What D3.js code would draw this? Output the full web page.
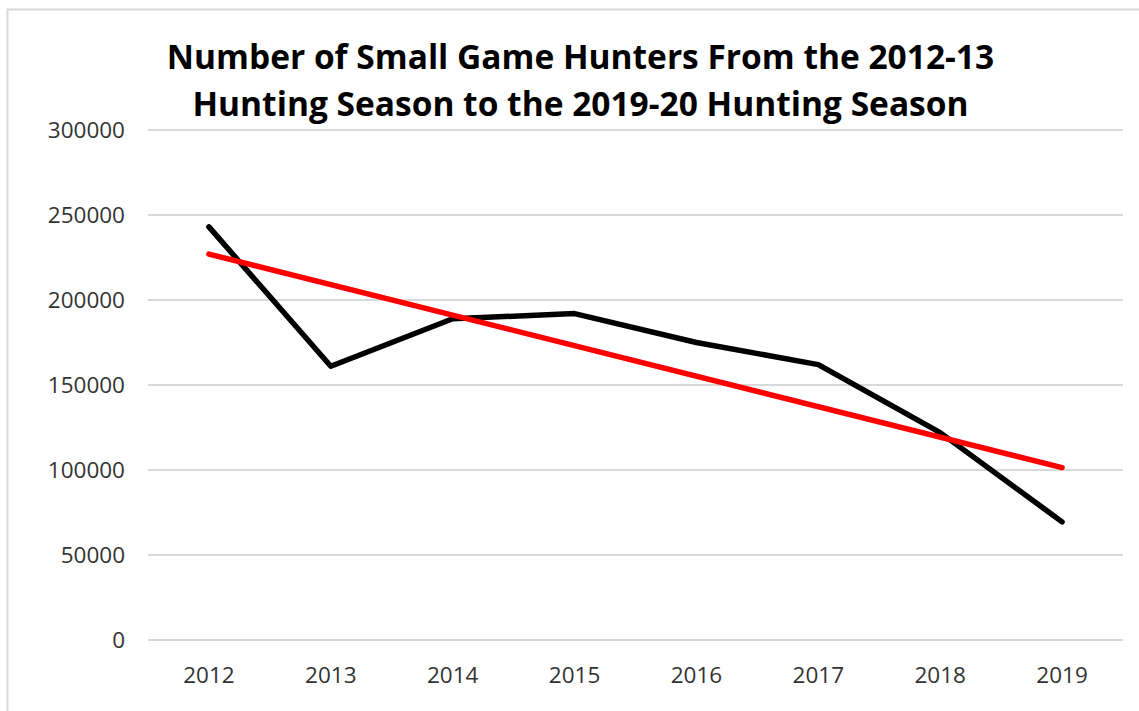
<!DOCTYPE html>
<html>
<head>
<meta charset="utf-8">
<script src="https://cdn.jsdelivr.net/npm/d3@7"></script>
<style>
  html, body { margin: 0; padding: 0; background: #fff; }
  svg { display: block; }
</style>
</head>
<body>
<svg id="chart" width="1139" height="711"></svg>
<script>
// ---- Data ----
const years = ["2012", "2013", "2014", "2015", "2016", "2017", "2018", "2019"];
const hunters = [243000, 161000, 189000, 192000, 175000, 162000, 122000, 69500];
const yTicks = [0, 50000, 100000, 150000, 200000, 250000, 300000];
const titleLines = [
  "Number of Small Game Hunters From the 2012-13",
  "Hunting Season to the 2019-20 Hunting Season"
];

// ---- Linear trendline (least squares, like Excel) ----
const n = hunters.length;
const xm = d3.mean(d3.range(n));
const ym = d3.mean(hunters);
const slope = d3.sum(d3.range(n), i => (i - xm) * (hunters[i] - ym)) /
              d3.sum(d3.range(n), i => (i - xm) * (i - xm));
const intercept = ym - slope * xm;
const trend = [0, n - 1].map(i => ({ i, v: intercept + slope * i }));

// ---- Layout ----
const svg = d3.select("#chart");
const plot = { left: 148, right: 1123, top: 130, bottom: 640 };
const tickFont = "'Open Sans', 'Liberation Sans', sans-serif";

// chart area border (left + top visible)
svg.append("path")
  .attr("d", "M7.5,711 L7.5,9.5 L1139,9.5")
  .attr("fill", "none").attr("stroke", "#d9d9d9").attr("stroke-width", 2);

const x = d3.scaleBand().domain(years).range([plot.left, plot.right]).padding(0);
const y = d3.scaleLinear().domain([0, 300000]).range([plot.bottom, plot.top]);

// gridlines
svg.append("g").selectAll("line").data(yTicks).join("line")
  .attr("x1", plot.left).attr("x2", plot.right)
  .attr("y1", d => y(d)).attr("y2", d => y(d))
  .attr("stroke", "#d9d9d9").attr("stroke-width", 2);

// y axis labels
const yAxis = d3.axisLeft(y).tickValues(yTicks).tickSize(0).tickPadding(0)
  .tickFormat(d3.format("d"));
const gy = svg.append("g").attr("transform", `translate(${125},0)`).call(yAxis);
gy.select(".domain").remove();
gy.selectAll("text")
  .attr("fill", "#333").style("font-family", tickFont).style("font-size", "22.5px")
  .attr("dy", "0.35em");

// x axis labels
const xAxis = d3.axisBottom(x).tickSize(0).tickPadding(0);
const gx = svg.append("g").attr("transform", `translate(0,${683})`).call(xAxis);
gx.select(".domain").remove();
gx.selectAll("text")
  .attr("fill", "#333").style("font-family", tickFont).style("font-size", "22.5px")
  .attr("dy", "0");

const cx = i => x(years[i]) + x.bandwidth() / 2;

// data line
const line = d3.line().x((d, i) => cx(i)).y(d => y(d));
svg.append("path")
  .datum(hunters)
  .attr("d", line)
  .attr("fill", "none").attr("stroke", "#000").attr("stroke-width", 5.5)
  .attr("stroke-linecap", "round").attr("stroke-linejoin", "round");

// trendline
const tline = d3.line().x(d => cx(d.i)).y(d => y(d.v));
svg.append("path")
  .datum(trend)
  .attr("d", tline)
  .attr("fill", "none").attr("stroke", "#ff0000").attr("stroke-width", 5.5)
  .attr("stroke-linecap", "round");

// title
svg.append("g").selectAll("text").data(titleLines).join("text")
  .attr("x", 580.5).attr("y", (d, i) => 69 + i * 47)
  .attr("text-anchor", "middle")
  .style("font-family", "'Open Sans', 'Liberation Sans', sans-serif")
  .style("font-weight", "bold").style("font-size", "33.5px")
  .attr("fill", "#000")
  .text(d => d);
</script>
</body>
</html>
